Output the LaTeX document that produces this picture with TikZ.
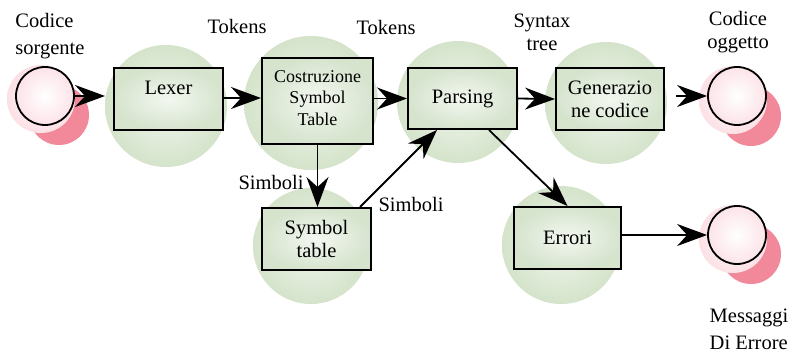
\documentclass[tikz,border=0pt]{standalone}
\usepackage{fontspec}
\setmainfont{Liberation Serif}
\usetikzlibrary{arrows.meta,calc}
\pgfdeclarelayer{background}
\pgfsetlayers{background,main}

\definecolor{ballouter}{HTML}{D4E3CA}
\definecolor{ballinner}{HTML}{F1F6EE}
\definecolor{boxouter}{HTML}{D6E4CE}
\definecolor{boxinner}{HTML}{F3F7F0}
\definecolor{shadowc}{HTML}{6B7866}
\definecolor{pinkdark}{HTML}{F2899A}
\definecolor{pinklight}{HTML}{FCE0E5}
\definecolor{pinkring}{HTML}{FCE3E8}

\tikzset{
  x=1pt, y=-1pt,
  txt/.style={font=\rmfamily\fontsize{20.5}{23}\selectfont, inner sep=0pt, align=center},
  ball/.style={circle, inner sep=0pt, minimum size=#1, shading=radial,
    inner color=ballinner, outer color=ballouter},
  procbox/.style={draw=black, line width=2pt, inner sep=0pt, shading=radial,
    inner color=boxinner, outer color=boxouter, txt},
  pinkback/.style={circle, inner sep=0pt, minimum size=#1, fill=pinkdark},
  pinkhalo/.style={circle, inner sep=0pt, minimum size=#1, shading=radial,
    inner color=white, outer color=pinklight},
  terminal/.style={circle, draw=black, line width=1.8pt, inner sep=0pt,
    minimum size=58pt, shading=radial, inner color=white, outer color=pinkring},
  arr/.style={line width=1.8pt, -{Stealth[length=30pt, width=22pt, inset=10pt]}},
  shade/.style={fill=shadowc}
}

\begin{document}
\begin{tikzpicture}
\useasboundingbox (0,0) rectangle (793,353);
\fill[white] (0,0) rectangle (793,353);

% green halos behind the process boxes
\node[ball=122pt] (g1) at (166,106) {};
\node[ball=134pt] (g2) at (311,103) {};
\node[ball=122pt] (g3) at (458,102) {};
\node[ball=122pt] (g4) at (606,103) {};
\node[ball=116pt] (g5) at (311,246) {};
\node[ball=118pt] (g6) at (561,245) {};

% process boxes
\node[procbox, minimum width=109pt, minimum height=62pt] (lexer) at (168.5,99) {Lexer\\ {}};
\node[procbox, minimum width=111pt, minimum height=86pt,
      font=\rmfamily\fontsize{18}{21.5}\selectfont] (costr) at (317.5,101) {\mbox{}\\[-16pt]Costruzione\\Symbol\\Table};
\node[procbox, minimum width=109pt, minimum height=61pt] (parsing) at (462.5,98.5) {Parsing};
\node[procbox, minimum width=108pt, minimum height=62pt] (gen) at (610,99) {\mbox{}\\[-8pt]Generazio\\ne codice};
\node[procbox, minimum width=109pt, minimum height=62pt] (symtab) at (316.5,239) {Symbol\\table};
\node[procbox, minimum width=107pt, minimum height=62pt] (errori) at (567.5,238) {Errori};

% drop shadows of the boxes, kept under the halos
\begin{pgfonlayer}{background}
  \fill[shade] ([shift={(13,17)}]lexer.north west) rectangle ([shift={(13,17)}]lexer.south east);
  \fill[shade] ([shift={(11,17)}]costr.north west) rectangle ([shift={(11,17)}]costr.south east);
  \fill[shade] ([shift={(13,17)}]parsing.north west) rectangle ([shift={(13,17)}]parsing.south east);
  \fill[shade] ([shift={(13,17)}]symtab.north west) rectangle ([shift={(13,17)}]symtab.south east);
  \fill[shade] ([shift={(14,17)}]errori.north west) rectangle ([shift={(14,17)}]errori.south east);
\end{pgfonlayer}

% terminal circles (input / outputs)
\node[pinkback=60pt] at (59,115) {};
\node[pinkhalo=68pt] at (41,99) {};
\node[terminal] (src) at (45,96) {};

\node[pinkback=60pt] at (751,116) {};
\node[pinkhalo=68pt] at (733,100) {};
\node[terminal] (obj) at (737,96) {};

\node[pinkback=60pt] at (751,254) {};
\node[pinkhalo=68pt] at (733,239) {};
\node[terminal] (msg) at (737,235) {};

% connectors
\draw[arr] (src.east) -- ([xshift=-8pt]src.east -| lexer.west);
\draw[arr] ([xshift=-2pt]lexer.east |- 0,98) -- (costr.west |- 0,98);
\draw[arr] (parsing.west -| costr.east) -- (parsing.west);
\draw[arr] ([xshift=-1pt]parsing.east) -- (gen.west);
\draw[arr] ([xshift=11pt]gen.east |- obj.west) -- (obj.west);
\draw[arr] (costr.south) -- (costr.south |- symtab.north);
\draw[arr] ([xshift=-12pt]symtab.north east) -- ([xshift=30pt]parsing.south west);
\draw[arr] ([xshift=-29pt]parsing.south east) -- (errori.north);
\draw[arr] (errori.east |- msg.west) -- (msg.west);

% labels
\node[txt, align=left, font=\rmfamily\fontsize{20.5}{27}\selectfont] (lsrc) at (50,36.5) {Codice\\sorgente};
\node[txt] (ltok1) at (237,26) {Tokens};
\node[txt] (ltok2) at (386,27) {Tokens};
\node[txt] (lsyn) at (542,32) {Syntax\\tree};
\node[txt] (lobj) at (738,32) {Codice\\oggetto};
\node[txt] (lsim1) at (271,182) {Simboli};
\node[txt] (lsim2) at (411,204) {Simboli};
\node[txt, align=left, font=\rmfamily\fontsize{20.5}{27}\selectfont] (lmsg) at (749,329) {Messaggi\\Di Errore};
\end{tikzpicture}
\end{document}
